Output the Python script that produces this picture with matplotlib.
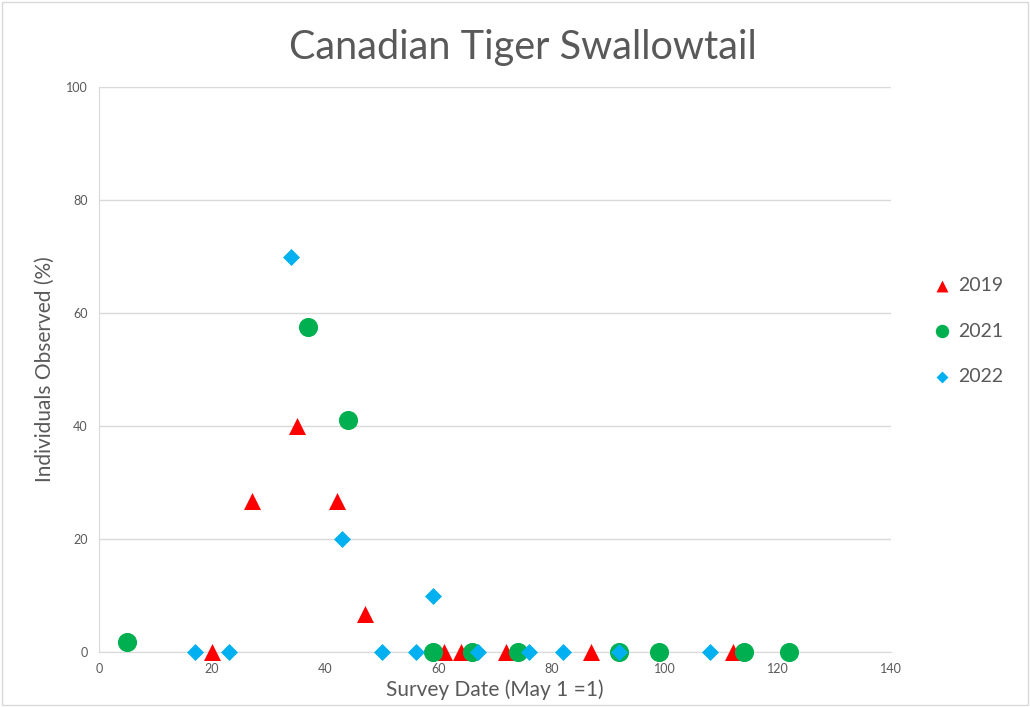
import matplotlib.pyplot as plt
from matplotlib.patches import Rectangle

plt.rcParams['font.family'] = ['Lato', 'DejaVu Sans']

# Survey day (May 1 = 1) and % of individuals observed
day_2019 = [20, 27, 35, 42, 47, 61, 64, 72, 87, 112]
pct_2019 = [0, 26.7, 40, 26.7, 6.7, 0, 0, 0, 0, 0]

day_2021 = [5, 37, 44, 59, 66, 74, 92, 99, 114, 122]
pct_2021 = [1.7, 57.5, 41, 0, 0, 0, 0, 0, 0, 0]

day_2022 = [17, 23, 34, 43, 50, 56, 59, 67, 76, 82, 92, 108]
pct_2022 = [0, 0, 70, 20, 0, 0, 10, 0, 0, 0, 0, 0]

grey = '#595959'

fig = plt.figure(figsize=(10.3, 7.07), dpi=100)
ax = fig.add_axes([99 / 1030, 1 - 652 / 707, (891 - 99) / 1030, (652 - 87) / 707])

ax.scatter(day_2019, pct_2019, marker='^', s=150, color='#FF0000', label='2019',
           zorder=3, linewidths=0, clip_on=False)
ax.scatter(day_2021, pct_2021, marker='o', s=190, color='#00B050', label='2021',
           zorder=3, linewidths=0, clip_on=False)
ax.scatter(day_2022, pct_2022, marker='D', s=75, color='#00B0F0', label='2022',
           zorder=3, linewidths=0, clip_on=False)

ax.set_xlim(0, 140)
ax.set_ylim(0, 100)
ax.set_xticks(range(0, 141, 20))
ax.set_yticks(range(0, 101, 20))
ax.grid(axis='y', color='#D9D9D9', linewidth=1)
ax.set_axisbelow(True)
for side in ['top', 'right']:
    ax.spines[side].set_visible(False)
ax.spines['left'].set_color('#D9D9D9')
ax.spines['bottom'].set_color('#D9D9D9')
ax.tick_params(length=0, labelsize=9, colors=grey, pad=8)

ax.set_title('Canadian Tiger Swallowtail', fontsize=28.5, color=grey, pad=20, x=0.535)
ax.set_xlabel('Survey Date (May 1 =1)', fontsize=15, color=grey, labelpad=3)
ax.set_ylabel('Individuals Observed (%)', fontsize=15, color=grey, labelpad=8)

leg = ax.legend(loc='center left', bbox_to_anchor=(1.03, 0.568), frameon=False,
                fontsize=14, labelspacing=1.47, handlelength=1.0, handletextpad=0.35,
                markerscale=0.7)
for t in leg.get_texts():
    t.set_color(grey)

fig.patches.append(Rectangle((0.002, 0.003), 0.996, 0.994, transform=fig.transFigure,
                             fill=False, edgecolor='#D9D9D9', linewidth=1))

fig.savefig('out.png', dpi=100)
